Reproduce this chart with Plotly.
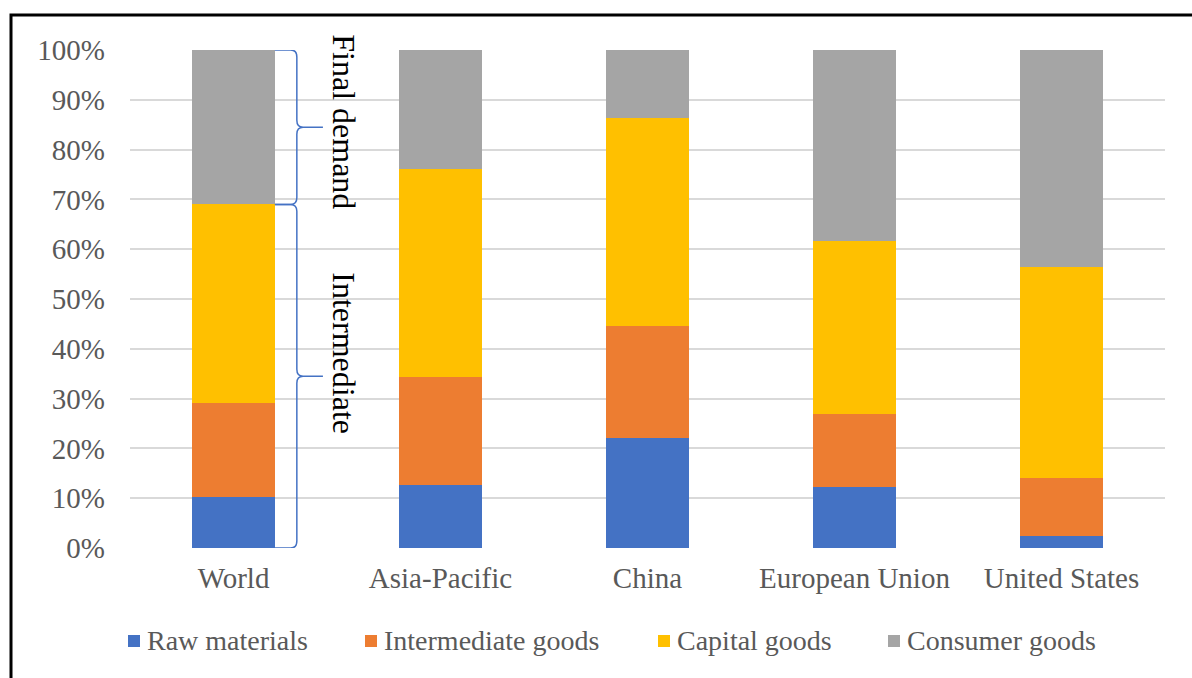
import plotly.graph_objects as go

# Shares of trade by end use (percent of total), per economy
regions = ["World", "Asia-Pacific", "China", "European Union", "United States"]
raw_materials = [10.3, 12.6, 22.1, 12.3, 2.4]
intermediate_goods = [18.8, 21.7, 22.4, 14.6, 11.6]
capital_goods = [39.9, 41.8, 41.8, 34.8, 42.4]
consumer_goods = [31.0, 23.9, 13.7, 38.3, 43.6]
y_ticks = [0, 10, 20, 30, 40, 50, 60, 70, 80, 90, 100]

series = [
    ("Raw materials", raw_materials, "#4472C4"),
    ("Intermediate goods", intermediate_goods, "#ED7D31"),
    ("Capital goods", capital_goods, "#FFC000"),
    ("Consumer goods", consumer_goods, "#A5A5A5"),
]

FONT = "Liberation Serif, Times New Roman, serif"
TEXT_GRAY = "#595959"
BAR_WIDTH = 0.4

# plot area in pixels (used to place the hand-built legend)
W, H = 1192, 678
M_L, M_R, M_T, M_B = 130, 27, 50, 130
PLOT_W = W - M_L - M_R
PLOT_H = H - M_T - M_B


def px_to_paper_x(px):
    return (px - M_L) / PLOT_W


def px_to_paper_y(py):
    return (H - M_B - py) / PLOT_H


fig = go.Figure()
for name, vals, color in series:
    fig.add_trace(go.Bar(
        x=regions, y=vals, name=name, width=BAR_WIDTH,
        marker=dict(color=color, line=dict(width=0)),
        showlegend=False,
    ))

# Curly braces next to the World bar: intermediate vs final demand
n = len(regions)
world_intermediate = raw_materials[0] + intermediate_goods[0] + capital_goods[0]
world_total = world_intermediate + consumer_goods[0]


def dom(offset, idx=0):
    """Category-unit offset from a bar centre -> x-domain fraction."""
    return (idx + 0.5 + offset) / n


x0 = dom(BAR_WIDTH / 2)
x1 = dom(BAR_WIDTH / 2 + 0.106)
x2 = dom(BAR_WIDTH / 2 + 0.232)
rx = 0.006
dy = 1.4


def brace(y_top, y_bot):
    ym = (y_top + y_bot) / 2
    return (
        f"M {x0},{y_top} L {x1 - rx},{y_top} Q {x1},{y_top} {x1},{y_top - dy} "
        f"L {x1},{ym + dy} Q {x1},{ym} {x1 + rx},{ym} L {x2},{ym} "
        f"L {x1 + rx},{ym} Q {x1},{ym} {x1},{ym - dy} "
        f"L {x1},{y_bot + dy} Q {x1},{y_bot} {x1 - rx},{y_bot} L {x0},{y_bot}"
    )


shapes = [
    dict(type="path", xref="x domain", yref="y", path=brace(world_total, world_intermediate),
         line=dict(color="#4472C4", width=1.5)),
    dict(type="path", xref="x domain", yref="y", path=brace(world_intermediate, 0),
         line=dict(color="#4472C4", width=1.5)),
    # outer frame around the chart
    dict(type="rect", xref="paper", yref="paper",
         x0=px_to_paper_x(11), x1=px_to_paper_x(W + 20),
         y0=px_to_paper_y(H + 20), y1=px_to_paper_y(15),
         line=dict(color="black", width=3), fillcolor="rgba(0,0,0,0)", layer="above"),
]

text_x = dom(0.536)
annotations = [
    dict(text="Final demand", xref="x domain", yref="y", x=text_x, y=85.6,
         xanchor="center", yanchor="middle",
         textangle=90, showarrow=False, font=dict(family=FONT, size=32, color="black")),
    dict(text="Intermediate", xref="x domain", yref="y", x=text_x, y=39.0,
         xanchor="center", yanchor="middle",
         textangle=90, showarrow=False, font=dict(family=FONT, size=32, color="black")),
]

# legend row: small square swatch followed by the series name
legend_left_px = [128, 365, 658, 888]
legend_y_px = 640
sw = 12
for (name, _, color), lx in zip(series, legend_left_px):
    shapes.append(dict(
        type="rect", xref="paper", yref="paper",
        x0=px_to_paper_x(lx), x1=px_to_paper_x(lx + sw),
        y0=px_to_paper_y(legend_y_px + sw / 2 + 1), y1=px_to_paper_y(legend_y_px - sw / 2 + 1),
        fillcolor=color, line=dict(width=0),
    ))
    annotations.append(dict(
        text=name, xref="paper", yref="paper",
        x=px_to_paper_x(lx + sw + 5), y=px_to_paper_y(legend_y_px),
        xanchor="left", yanchor="middle", showarrow=False,
        font=dict(family=FONT, size=28, color=TEXT_GRAY),
    ))

fig.update_layout(
    barmode="stack",
    width=W, height=H,
    margin=dict(l=M_L, r=M_R, t=M_T, b=M_B),
    paper_bgcolor="white", plot_bgcolor="white",
    font=dict(family=FONT, size=29, color=TEXT_GRAY),
    shapes=shapes,
    annotations=annotations,
    showlegend=False,
)
fig.update_xaxes(showgrid=False, showline=False, ticks="", ticklabelstandoff=10,
                 tickfont=dict(family=FONT, size=29, color=TEXT_GRAY))
fig.update_yaxes(range=[0, 100], tickvals=y_ticks, ticktext=[f"{v}%" for v in y_ticks],
                 showgrid=True, gridcolor="#D9D9D9", gridwidth=2, zeroline=False,
                 showline=False, ticks="", ticklabelstandoff=24,
                 tickfont=dict(family=FONT, size=29, color=TEXT_GRAY))

fig.write_html("out.html")
